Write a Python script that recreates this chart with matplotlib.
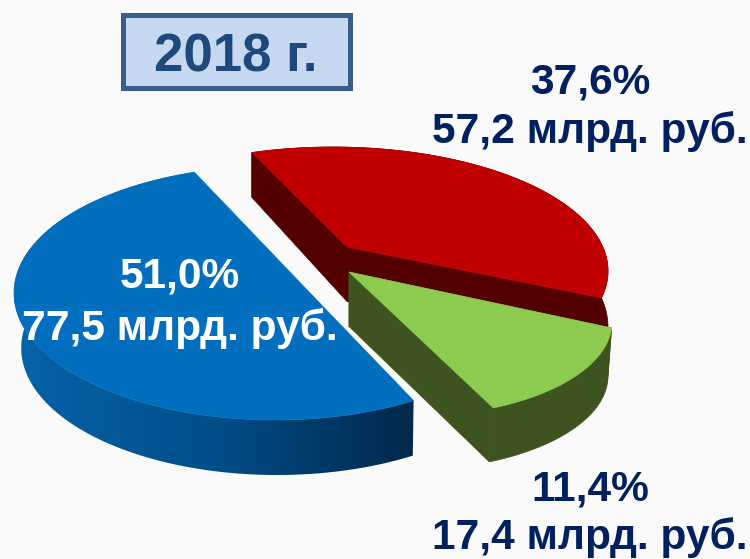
import numpy as np
import matplotlib
matplotlib.use("Agg")
import matplotlib.pyplot as plt
from matplotlib.patches import Polygon, Rectangle
from matplotlib.colors import LinearSegmentedColormap

shares = [51.0, 37.6, 11.4]
amounts = ["77,5", "57,2", "17,4"]
title = "2018 г."

plt.rcParams['font.family'] = ['Liberation Sans', 'DejaVu Sans']
BG = "#FAFAFA"

# projected-pie geometry per slice (style, in pixel space)
geom = [
    dict(c=(275, 293), r=(261, 127), start=108, stretch=1.057, v=(310, 293), d=55, dx=2,
         xs=0.98, k=0, top="#026EBE", wall=None),
    dict(c=(333, 271), r=(275, 124), start=-12.5, stretch=0.884, v=(347, 247), d=54, dx=0,
         xs=1, k=0.097, top="#C00000", wall="#520000"),
    dict(c=(412, 322), r=(200, 94), start=-66, stretch=1.52, v=(349, 272), d=54, dx=-4,
         xs=1, k=0, top="#8CCB50", wall="#3D5420"),
]

fig = plt.figure(figsize=(7.5, 5.59), dpi=100, facecolor=BG)
ax = fig.add_axes([0, 0, 1, 1])
ax.set_xlim(0, 750)
ax.set_ylim(559, 0)
ax.axis("off")


def arc(g, share):
    sweep = share * 3.6 * g["stretch"]
    t = np.radians(np.linspace(g["start"], g["start"] + sweep, 160))
    return np.column_stack([g["c"][0] + g["r"][0] * np.cos(t),
                            g["c"][1] - g["r"][1] * np.sin(t)])


def lower(g, pts):
    """Bottom rim of the slice wall: perspective shrink in x, depth varying with y."""
    pts = np.atleast_2d(pts)
    x = g["c"][0] + g["xs"] * (pts[:, 0] - g["c"][0]) + g["dx"]
    y = pts[:, 1] + g["d"] + g["k"] * (pts[:, 1] - g["v"][1])
    return np.column_stack([x, y])


def draw_slice(g, share, z):
    a = arc(g, share)
    bottom = lower(g, a)
    wall_poly = np.vstack([a, bottom[::-1]])
    if g["wall"] is None:
        cmap = LinearSegmentedColormap.from_list("w", ["#0763A8", "#004E88", "#00284C"])
        x0, x1 = a[:, 0].min(), a[:, 0].max()
        y0, y1 = a[:, 1].min(), bottom[:, 1].max()
        im = ax.imshow(np.linspace(0, 1, 256)[None, :], cmap=cmap, aspect="auto",
                       extent=[x0, x1, y1 + 2, y0], zorder=z)
        clip = Polygon(wall_poly, closed=True, transform=ax.transData)
        im.set_clip_path(clip)
    else:
        ax.add_patch(Polygon(wall_poly, closed=True, fc=g["wall"], ec=g["wall"], lw=0.5, zorder=z))
        v = np.array(g["v"], dtype=float)
        v_low = v + np.array([0, 54.5])
        for end, end_low in ((a[0], bottom[0]), (a[-1], bottom[-1])):
            ax.add_patch(Polygon([v, end, end_low, v_low], closed=True,
                                 fc=g["wall"], ec=g["wall"], lw=0.5, zorder=z))
    top = np.vstack([a, g["v"]])
    ax.add_patch(Polygon(top, closed=True, fc=g["top"], ec=g["top"], lw=0.5, zorder=z + 0.5))


for i, (g, s) in enumerate(zip(geom, shares)):
    draw_slice(g, s, 2 + i)
ax.set_xlim(0, 750)
ax.set_ylim(559, 0)


def pct(v):
    return f"{v:.1f}%".replace(".", ",")


NAVY = "#002060"
FS = 30.6
labels = [
    (180, 288, 340, "white"),
    (590, 93, 143, NAVY),
    (590, 500.5, 549.5, NAVY),
]
for (x, y1, y2, col), s, am in zip(labels, shares, amounts):
    ax.text(x, y1, pct(s), ha="center", va="baseline", fontsize=FS, fontweight="bold", color=col, zorder=10)
    ax.text(x, y2, f"{am} млрд. руб.", ha="center", va="baseline", fontsize=FS, fontweight="bold", color=col, zorder=10)

ax.add_patch(Rectangle((122.5, 14.5), 227, 73, fc="#C6D9F1", ec="#385D8A", lw=3.6, zorder=8))
ax.text(235.5, 71, title, ha="center", va="baseline", fontsize=38, fontweight="bold", color="#1F497D", zorder=10)

fig.savefig("out.png", dpi=100, facecolor=BG)
